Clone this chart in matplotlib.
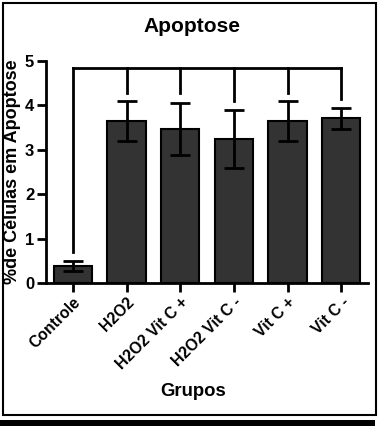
import matplotlib
matplotlib.use("Agg")
import matplotlib.pyplot as plt
from matplotlib.patches import Rectangle

categories = ["Controle", "H2O2", "H2O2 Vit C +", "H2O2 Vit C -", "Vit C +", "Vit C -"]
means = [0.38, 3.64, 3.47, 3.25, 3.64, 3.71]
errors = [0.12, 0.45, 0.59, 0.65, 0.45, 0.24]
bracket_y = 4.85
drop_ends = [0.70, 4.29, 4.29, 4.10, 4.29, 4.15]
yticks = [0, 1, 2, 3, 4, 5]

plt.rcParams['font.family'] = ['Liberation Sans', 'DejaVu Sans']
plt.rcParams['font.weight'] = 'bold'

W, H = 381, 426
fig = plt.figure(figsize=(W/100, H/100), dpi=100)

def fx(px): return px / W
def fy(py): return 1 - py / H

# axes: x from 46 to 368, y from 61 (5) to 283 (0)
ax = fig.add_axes([fx(46), fy(283), fx(368) - fx(46), fy(61) - fy(283)])
x = list(range(len(categories)))
ax.bar(x, means, width=0.71, color='#333333', edgecolor='black', linewidth=1.5, zorder=2)
ax.errorbar(x, means, yerr=errors, fmt='none', ecolor='black', elinewidth=2,
            capsize=7, capthick=2, zorder=3)
# significance bracket
ax.plot([x[0], x[-1]], [bracket_y, bracket_y], color='black', lw=2, clip_on=False,
        solid_capstyle='projecting')
for xi, ye in zip(x, drop_ends):
    ax.plot([xi, xi], [bracket_y, ye], color='black', lw=2, clip_on=False)

ax.set_xlim(-0.5, 5.5)
ax.set_ylim(0, 5)
ax.set_yticks(yticks)
ax.set_yticklabels([str(t) for t in yticks], fontsize=12, fontweight='bold')
ax.set_xticks(x)
ax.set_xticklabels(categories, rotation=45, ha='right', rotation_mode='anchor',
                   fontsize=11.3, fontweight='bold')
for s in ['top', 'right']:
    ax.spines[s].set_visible(False)
for s in ['left', 'bottom']:
    ax.spines[s].set_linewidth(2)
ax.tick_params(axis='both', direction='out', length=6.5, width=2, pad=2)

fig.text(fx(13), fy(172), '%de Células em Apoptose', fontsize=13, fontweight='bold',
         rotation=90, ha='center', va='center')
fig.text(fx(193), fy(392), 'Grupos', fontsize=13.3, fontweight='bold', ha='center', va='center')
fig.text(fx(192), fy(26), 'Apoptose', fontsize=15, fontweight='bold', ha='center', va='center')

# frame
fig.patches.append(Rectangle((fx(3), fy(415)), fx(376) - fx(3), fy(3) - fy(415),
                             transform=fig.transFigure, fill=False, edgecolor='black', lw=1.5))
fig.patches.append(Rectangle((0, 0), fx(375), fy(420), transform=fig.transFigure,
                             facecolor='black', edgecolor='none'))

fig.savefig('out.png', dpi=100)
